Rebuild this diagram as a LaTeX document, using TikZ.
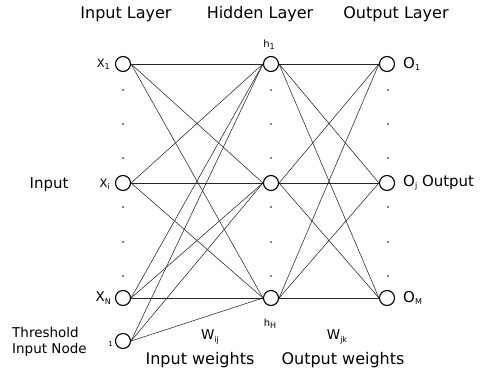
\documentclass[tikz,border=0pt]{standalone}
\usepackage{fontspec}
\setmainfont{DejaVu Sans}
\newcommand\fs[1]{\fontsize{#1}{#1}\selectfont}
\newcommand\sbx[1]{\raisebox{-0.3ex}{\fs{8}#1}}
\begin{document}
\begin{tikzpicture}[x=1pt,y=-1pt,
  neuron/.style={circle,draw=black,line width=1.1pt,minimum size=15pt,inner sep=0pt},
  conn/.style={draw=black!85,line width=0.55pt},
  big/.style={font=\fs{16}},
  lbl/.style={inner sep=0pt}]
\useasboundingbox (0,0) rectangle (497,372);
% nodes
\node[neuron] (i1) at (123,64) {};
\node[neuron] (ii) at (123,183) {};
\node[neuron] (iN) at (123,298) {};
\node[neuron] (ib) at (123,341) {};
\node[neuron] (h1) at (271,64) {};
\node[neuron] (hj) at (271,183) {};
\node[neuron] (hH) at (271,298) {};
\node[neuron] (o1) at (387,64) {};
\node[neuron] (oj) at (387,183) {};
\node[neuron] (oM) at (387,298) {};
% connections
\foreach \a in {i1,ii,iN,ib}
  \foreach \b in {h1,hj,hH}
    \draw[conn] (\a.east) -- (\b.west);
\foreach \a in {h1,hj,hH}
  \foreach \b in {o1,oj,oM}
    \draw[conn] (\a.east) -- (\b.west);
% dots
\foreach \x in {123,271,388}
  \foreach \y in {90,124,158,207,242,276}
    \fill[black] (\x,\y) circle (0.8pt);
% headers
\node[big,lbl] (tin) at (126,14) {Input Layer};
\node[big,lbl] (thid) at (260,14) {Hidden Layer};
\node[big,lbl] (tout) at (396,14) {Output Layer};
% hidden labels
\node[lbl,font=\fs{10}] (lh1) at (269,45) {h\sbx{1}};
\node[lbl,font=\fs{10}] (lhH) at (270,324) {h\sbx{H}};
% input labels
\node[lbl,anchor=east,font=\fs{11.5}] (lx1) at (110,64) {X\sbx{1}};
\node[lbl,anchor=east,font=\fs{11.5}] (lxi) at (110,184) {X\sbx{i}};
\node[lbl,anchor=east,font=\fs{13.5}] (lxN) at (111,298) {X\sbx{N}};
\node[lbl,anchor=east,font=\fs{7}] (l1) at (113,344) {1};
\node[lbl,font=\fs{15}] (linput) at (49,185) {Input};
\node[lbl,anchor=west,align=left,font=\fs{13.5}] (lthr) at (12,342) {Threshold\\[3pt]Input Node};
% output labels
\node[lbl,anchor=west,font=\fs{15}] (lo1) at (403,64) {O\sbx{1}};
\node[lbl,anchor=west,font=\fs{15}] (loj) at (403,183) {O\sbx{j} Output};
\node[lbl,anchor=west,font=\fs{15}] (loM) at (403,298) {O\sbx{M}};
% weights
\node[lbl,font=\fs{13.5}] (lwij) at (210,337) {W\sbx{ij}};
\node[lbl,font=\fs{13.5}] (lwjk) at (337,337) {W\sbx{jk}};
\node[big,lbl] (liw) at (200,360) {Input weights};
\node[big,lbl] (low) at (343,360) {Output weights};
\end{tikzpicture}
\end{document}
